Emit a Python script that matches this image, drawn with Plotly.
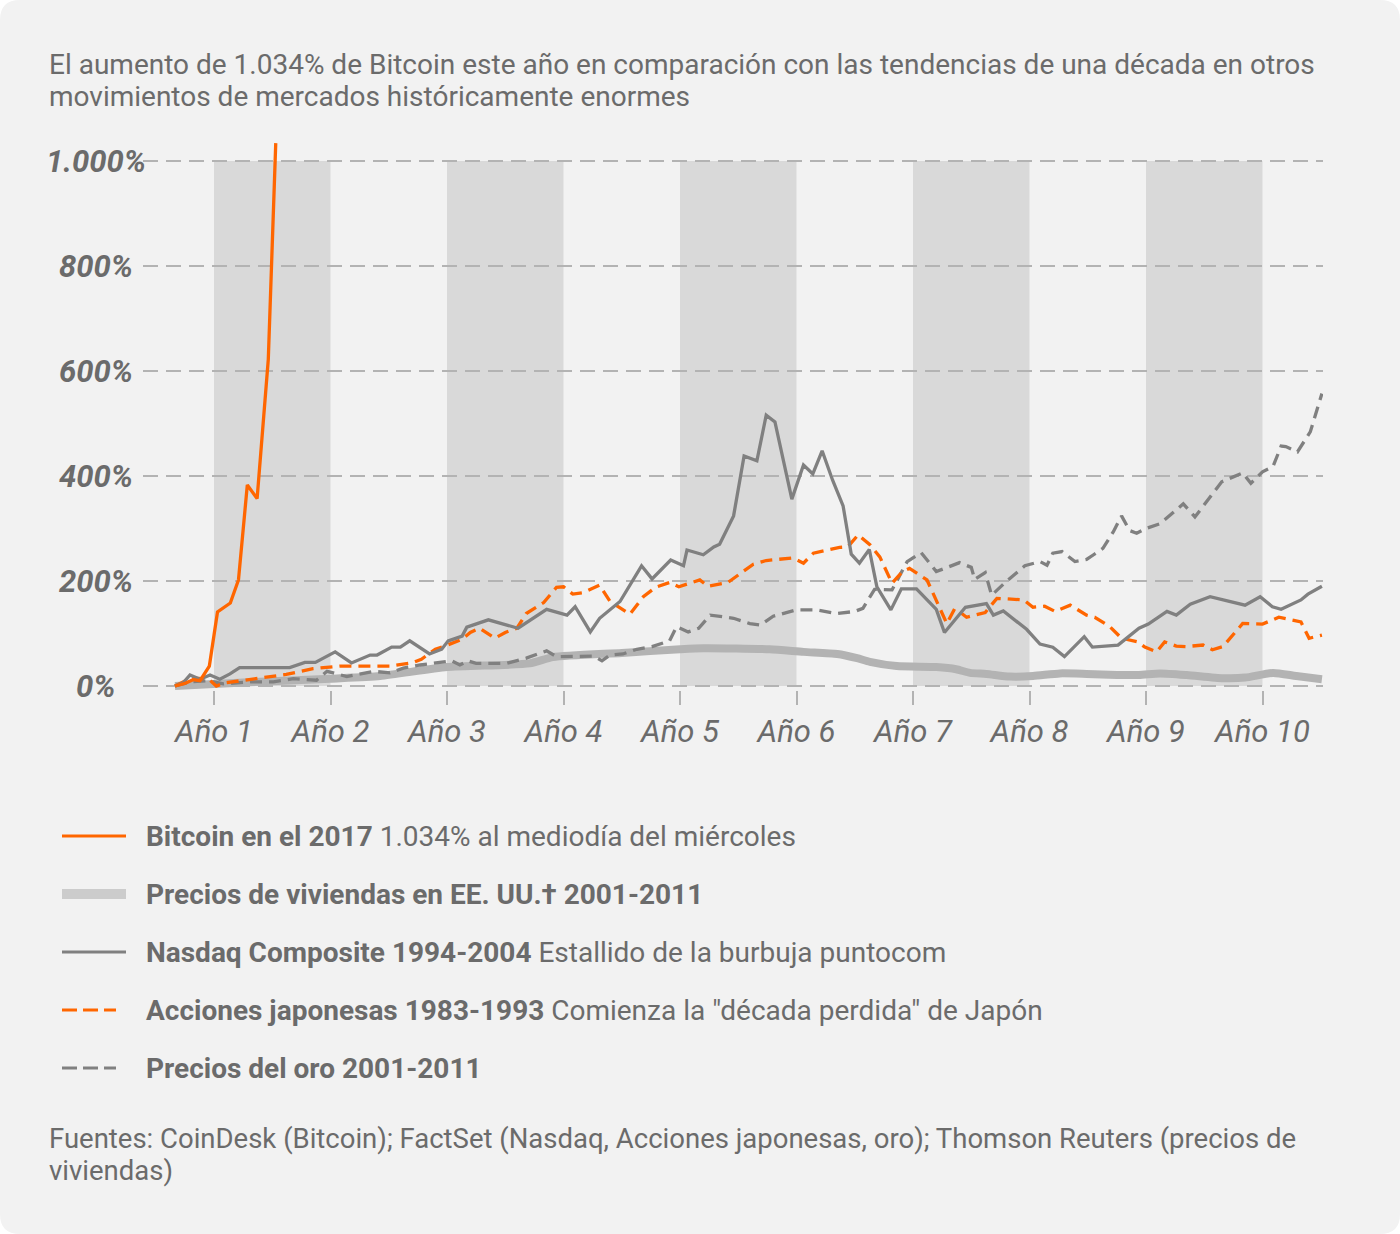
import plotly.graph_objects as go

# ---------------- data (x in years, y in % change) ----------------
bitcoin_x = [0.665, 0.75, 0.82, 0.88, 0.96, 1.03, 1.14, 1.21, 1.286, 1.37, 1.466, 1.53]
bitcoin_y = [0, 5, 12, 10, 38, 141, 158, 202, 383, 357, 622, 1034]

housing_x = [0.665, 1.0, 1.5, 2.0, 2.425, 3.0, 3.71, 3.91, 4.5, 5.0, 5.2, 5.77, 6.06, 6.35, 6.52,
             6.63, 6.86, 7.2, 7.37, 7.49, 7.63, 7.83, 8.03, 8.26, 8.49, 8.75, 8.94, 9.12, 9.35,
             9.66, 9.85, 10.09, 10.29, 10.51]
housing_y = [0, 4, 9, 14, 19, 36, 43, 55, 63, 70, 72, 70, 65, 61, 53,
             46, 38, 36, 32, 25, 23, 18, 19, 24, 23, 21, 21, 24, 21,
             15, 16, 25, 19, 13]

nasdaq_x = [0.665, 0.735, 0.794, 0.88, 0.966, 1.05, 1.137, 1.22, 1.65, 1.78, 1.87, 2.04, 2.18,
            2.34, 2.4, 2.525, 2.6, 2.68, 2.85, 2.955, 3.01, 3.13, 3.17, 3.27, 3.355, 3.61, 3.855,
            4.03, 4.1, 4.23, 4.31, 4.485, 4.67, 4.76, 4.92, 5.03, 5.06, 5.2, 5.29, 5.34, 5.46,
            5.55, 5.66, 5.74, 5.815, 5.96, 6.06, 6.14, 6.22, 6.31, 6.4, 6.47, 6.54, 6.625, 6.69,
            6.81, 6.9, 7.03, 7.2, 7.27, 7.45, 7.63, 7.69, 7.775, 7.975, 8.09, 8.2, 8.3, 8.47,
            8.54, 8.76, 8.94, 9.02, 9.18, 9.26, 9.38, 9.55, 9.85, 9.98, 10.085, 10.16, 10.33,
            10.39, 10.51]
nasdaq_y = [0, 6, 21, 13, 21, 13, 23, 35, 35, 45, 45, 65, 44,
            59, 59, 74, 74, 86, 61, 70, 86, 95, 112, 119, 126, 110, 146,
            135, 151, 103, 129, 161, 229, 204, 240, 229, 259, 250, 265, 270, 324,
            438, 429, 516, 503, 356, 421, 404, 448, 392, 343, 251, 234, 260, 189,
            145, 185, 185, 146, 102, 150, 157, 135, 143, 108, 80, 74, 56, 94,
            74, 78, 110, 118, 142, 135, 156, 170, 154, 170, 151, 146, 164,
            175, 190]

japan_x = [0.665, 0.8, 0.95, 1.02, 1.095, 1.22, 1.42, 1.62, 1.85, 2.08, 2.51, 2.7, 2.78, 2.9,
           2.97, 3.04, 3.13, 3.2, 3.28, 3.41, 3.5, 3.6, 3.68, 3.83, 3.94, 4.0, 4.08, 4.17, 4.31,
           4.4, 4.47, 4.57, 4.685, 4.79, 4.91, 4.99, 5.17, 5.24, 5.41, 5.5, 5.63, 5.74, 5.97,
           6.06, 6.145, 6.37, 6.44, 6.53, 6.63, 6.715, 6.82, 6.91, 6.97, 7.12, 7.29, 7.36, 7.46,
           7.62, 7.72, 7.95, 8.03, 8.13, 8.22, 8.35, 8.49, 8.56, 8.69, 8.79, 8.93, 8.99, 9.09,
           9.16, 9.26, 9.34, 9.49, 9.57, 9.66, 9.83, 10.0, 10.14, 10.33, 10.4, 10.51]
japan_y = [0, 15, 14, 0, 6, 10, 16, 22, 33, 38, 38, 44, 51, 70,
           75, 81, 89, 102, 110, 91, 102, 110, 138, 159, 188, 189, 175, 178, 192,
           161, 151, 137, 170, 188, 197, 189, 202, 190, 197, 211, 232, 239, 244,
           234, 253, 264, 265, 288, 269, 246, 196, 218, 224, 202, 119, 148, 131,
           140, 167, 164, 150, 152, 142, 154, 135, 131, 113, 91, 84, 74, 65,
           84, 76, 75, 78, 69, 75, 119, 118, 131, 122, 91, 97]

gold_x = [0.665, 0.8, 0.95, 1.08, 1.31, 1.51, 1.68, 1.88, 1.97, 2.14, 2.37, 2.51, 2.625, 2.77,
          3.04, 3.11, 3.18, 3.25, 3.51, 3.68, 3.855, 3.94, 4.26, 4.33, 4.4, 4.51, 4.63, 4.76,
          4.91, 4.97, 5.07, 5.16, 5.26, 5.46, 5.6, 5.69, 5.8, 6.0, 6.17, 6.345, 6.5, 6.57,
          6.67, 6.82, 6.95, 7.07, 7.2, 7.4, 7.5, 7.53, 7.62, 7.675, 7.8, 7.96, 8.09, 8.15, 8.2,
          8.28, 8.39, 8.49, 8.55, 8.63, 8.72, 8.79, 8.86, 8.92, 9.0, 9.12, 9.32, 9.42, 9.65,
          9.83, 9.9, 10.0, 10.09, 10.16, 10.2, 10.3, 10.41, 10.51]
gold_y = [0, 8, 10, 4, 8, 8, 14, 11, 28, 18, 28, 25, 34, 40,
          48, 40, 48, 43, 43, 53, 67, 56, 57, 48, 59, 61, 70, 75,
          86, 113, 103, 110, 135, 129, 119, 116, 133, 145, 145, 138, 142, 148,
          184, 183, 237, 254, 218, 235, 226, 203, 216, 173, 199, 229, 237, 230, 253,
          256, 237, 241, 250, 262, 294, 324, 296, 291, 300, 309, 347, 322, 389,
          406, 386, 408, 418, 457, 456, 446, 484, 557]

year_ticks = [1, 2, 3, 4, 5, 6, 7, 8, 9, 10]
year_labels = ["Año 1", "Año 2", "Año 3", "Año 4", "Año 5", "Año 6", "Año 7", "Año 8", "Año 9", "Año 10"]
band_starts = [1, 3, 5, 7, 9]
y_ticks = [0, 200, 400, 600, 800, 1000]
y_labels = ["0%", "200%", "400%", "600%", "800%", "1.000%"]

legend_names = [
    "<b>Bitcoin en el 2017</b> 1.034% al mediodía del miércoles",
    "<b>Precios de viviendas en EE. UU.† 2001-2011</b>",
    "<b>Nasdaq Composite 1994-2004</b> Estallido de la burbuja puntocom",
    "<b>Acciones japonesas 1983-1993</b> Comienza la \"década perdida\" de Japón",
    "<b>Precios del oro 2001-2011</b>",
]

title_lines = ["El aumento de 1.034% de Bitcoin este año en comparación con las tendencias de una década en otros",
               "movimientos de mercados históricamente enormes"]
source_lines = ["Fuentes: CoinDesk (Bitcoin); FactSet (Nasdaq, Acciones japonesas, oro); Thomson Reuters (precios de",
                "viviendas)"]

# ---------------- styling / geometry ----------------
W, H = 1400, 1234
L, R, T, B = 143, 77, 143, 544
PW, PH = W - L - R, H - T - B
ORANGE = "#ff6600"
GRAY = "#808080"
HOUSE = "#b3b3b3"
TEXT = "#6b6b6b"
FONT = "Roboto"


def px_x(p):
    return (p - L) / PW


def px_y(p):
    return (H - B - p) / PH


fig = go.Figure()
fig.add_trace(go.Scatter(x=housing_x, y=housing_y, mode="lines",
                         line=dict(color=HOUSE, width=8, shape="spline", smoothing=0.6), showlegend=False))
fig.add_trace(go.Scatter(x=gold_x, y=gold_y, mode="lines",
                         line=dict(color=GRAY, width=3.3, dash="12px,7px"), showlegend=False))
fig.add_trace(go.Scatter(x=japan_x, y=japan_y, mode="lines",
                         line=dict(color=ORANGE, width=3.3, dash="12px,7px"), showlegend=False))
fig.add_trace(go.Scatter(x=nasdaq_x, y=nasdaq_y, mode="lines",
                         line=dict(color=GRAY, width=3.3), showlegend=False))
fig.add_trace(go.Scatter(x=bitcoin_x, y=bitcoin_y, mode="lines",
                         line=dict(color=ORANGE, width=3.3), showlegend=False))

shapes = []
# rounded card background
x0, x1 = px_x(0), px_x(W)
y0, y1 = px_y(H), px_y(0)
rx, ry = 20 / PW, 20 / PH
path = (f"M{x0+rx},{y1} L{x1-rx},{y1} Q{x1},{y1} {x1},{y1-ry} L{x1},{y0+ry} Q{x1},{y0} {x1-rx},{y0} "
        f"L{x0+rx},{y0} Q{x0},{y0} {x0},{y0+ry} L{x0},{y1-ry} Q{x0},{y1} {x0+rx},{y1} Z")
shapes.append(dict(type="path", path=path, xref="paper", yref="paper", fillcolor="#f2f2f2",
                   line=dict(width=0), layer="below"))
for s in band_starts:
    shapes.append(dict(type="rect", xref="x", yref="y", x0=s, x1=s + 1, y0=0, y1=1000,
                       fillcolor="#d9d9d9", line=dict(width=0), layer="below"))

# legend samples
leg_y = [836, 894, 952, 1010, 1068]
leg_end = [126, 126, 126, 116, 116]
leg_styles = [
    dict(color=ORANGE, width=3, dash="solid"),
    dict(color="#cccccc", width=10, dash="solid"),
    dict(color=GRAY, width=3, dash="solid"),
    dict(color=ORANGE, width=3, dash="15px,6px"),
    dict(color=GRAY, width=3, dash="15px,6px"),
]
annotations = []
for yy, xe, st, name in zip(leg_y, leg_end, leg_styles, legend_names):
    shapes.append(dict(type="line", xref="paper", yref="paper", x0=px_x(62), x1=px_x(xe),
                       y0=px_y(yy), y1=px_y(yy), line=st))
    annotations.append(dict(text=name, xref="paper", yref="paper", x=px_x(144), y=px_y(yy),
                            xanchor="left", yanchor="middle", showarrow=False,
                            font=dict(family=FONT, size=28, color=TEXT)))

for v, t in zip(y_ticks, y_labels):
    annotations.append(dict(text=t, xref="paper", yref="y", x=px_x(96), y=v,
                            xanchor="center", yanchor="middle", showarrow=False,
                            font=dict(family=FONT, size=31, color=TEXT, weight="bold", style="italic")))

for line, yy in zip(title_lines, [65, 97]):
    annotations.append(dict(text=line, xref="paper", yref="paper", x=px_x(47), y=px_y(yy),
                            xanchor="left", yanchor="middle", align="left", showarrow=False,
                            font=dict(family=FONT, size=28, color=TEXT)))
for line, yy in zip(source_lines, [1138, 1170]):
    annotations.append(dict(text=line, xref="paper", yref="paper", x=px_x(47), y=px_y(yy),
                            xanchor="left", yanchor="middle", align="left", showarrow=False,
                            font=dict(family=FONT, size=27.5, color=TEXT)))

fig.update_layout(
    width=W, height=H,
    margin=dict(l=L, r=R, t=T, b=B, pad=0),
    paper_bgcolor="#ffffff",
    plot_bgcolor="rgba(0,0,0,0)",
    shapes=shapes,
    annotations=annotations,
    showlegend=False,
    xaxis=dict(range=[1 + (143 - 214) / 116.5, 1 + (1323 - 214) / 116.5],
               tickvals=year_ticks, ticktext=year_labels,
               ticks="outside", ticklen=14, tickwidth=2, tickcolor="#b3b3b3",
               showgrid=False, zeroline=False, showline=False,
               tickfont=dict(family=FONT, size=31, color=TEXT, style="italic")),
    yaxis=dict(range=[-4 / 0.525, -4 / 0.525 + PH / 0.525],
               tickvals=y_ticks, showticklabels=False,
               showgrid=True, gridcolor="#b3b3b3", gridwidth=2, griddash="15px,8px",
               zeroline=False, showline=False),
)

fig.write_html("out.html")
